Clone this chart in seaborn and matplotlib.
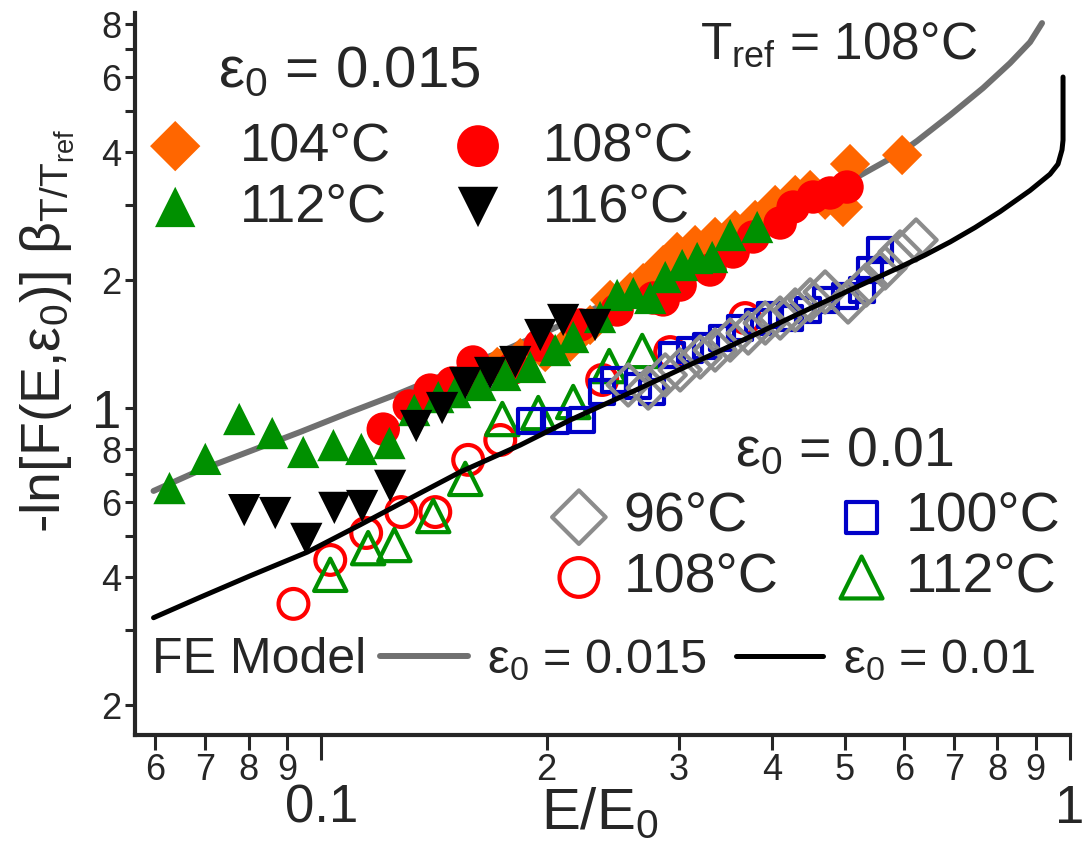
import matplotlib
matplotlib.use("Agg")
import matplotlib.pyplot as plt
import seaborn as sns

# ---------------- data ----------------
# eps0 = 0.015 (filled markers)
e015_104_x = [0.1442, 0.1581, 0.1718, 0.1844, 0.1991, 0.2150, 0.2286, 0.2431, 0.2586, 0.2691, 0.2862,
              0.2987, 0.3157, 0.3357, 0.3571, 0.3797, 0.4038, 0.4295, 0.4497, 0.4709, 0.4975, 0.5084, 0.5967]
e015_104_y = [1.073, 1.164, 1.249, 1.311, 1.354, 1.430, 1.568, 1.796, 1.875, 1.968, 2.170,
              2.329, 2.418, 2.526, 2.623, 2.770, 3.004, 3.171, 3.258, 3.090, 2.971, 3.751, 3.938]

e015_108_x = [0.1210, 0.1311, 0.1398, 0.1496, 0.1595, 0.1805, 0.1961, 0.2217, 0.2484, 0.2776,
              0.2862, 0.3015, 0.3306, 0.3549, 0.3775, 0.4101, 0.4268, 0.4539, 0.4782, 0.5037]
e015_108_y = [0.892, 1.011, 1.102, 1.145, 1.283, 1.242, 1.406, 1.568, 1.701, 1.815,
              1.796, 1.947, 2.112, 2.329, 2.526, 2.725, 2.971, 3.137, 3.206, 3.311]

e015_112_x = [0.0627, 0.0700, 0.0777, 0.0860, 0.0946, 0.1038, 0.1131, 0.1233, 0.1331, 0.1433, 0.1510,
              0.1631, 0.1761, 0.1901, 0.2053, 0.2170, 0.2357, 0.2484, 0.2610, 0.2750, 0.2880,
              0.3034, 0.3177, 0.3327, 0.3516, 0.3821]
e015_112_y = [0.648, 0.759, 0.942, 0.873, 0.788, 0.818, 0.801, 0.827, 0.989, 1.061, 1.090,
              1.133, 1.196, 1.249, 1.369, 1.469, 1.637, 1.845, 1.865, 1.815, 2.033,
              2.170, 2.254, 2.266, 2.553, 2.666]

e015_116_x = [0.0789, 0.0868, 0.0955, 0.1041, 0.1134, 0.1236, 0.1339, 0.1450, 0.1557, 0.1681,
              0.1816, 0.1961, 0.2104, 0.2321]
e015_116_y = [0.575, 0.566, 0.492, 0.582, 0.588, 0.656, 0.907, 1.000, 1.145, 1.209,
              1.283, 1.485, 1.611, 1.568]

# eps0 = 0.01 (open markers)
e010_96_x = [0.2570, 0.2733, 0.2880, 0.3015, 0.3206, 0.3357, 0.3516, 0.3717, 0.3917, 0.4101, 0.4295,
             0.4497, 0.4709, 0.5053, 0.5341, 0.5662, 0.5930, 0.6229]
e010_96_y = [1.133, 1.114, 1.196, 1.229, 1.318, 1.369, 1.445, 1.501, 1.585, 1.628, 1.701,
             1.796, 1.875, 1.776, 1.947, 2.136, 2.329, 2.485]

e010_100_x = [0.1901, 0.2060, 0.2231, 0.2372, 0.2461, 0.2650, 0.2767, 0.2942, 0.3109, 0.3266, 0.3430,
              0.3627, 0.3833, 0.3978, 0.4229, 0.4470, 0.4723, 0.5006, 0.5277, 0.5408, 0.5578]
e010_100_y = [0.932, 0.932, 0.937, 1.090, 1.164, 1.126, 1.090, 1.332, 1.369, 1.399, 1.461,
              1.543, 1.594, 1.655, 1.628, 1.701, 1.796, 1.834, 1.895, 2.112, 2.354]

e010_108_x = [0.0918, 0.1028, 0.1148, 0.1279, 0.1420, 0.1571, 0.1734, 0.2372, 0.2924, 0.3683]
e010_108_y = [0.346, 0.439, 0.508, 0.569, 0.569, 0.755, 0.841, 1.164, 1.354, 1.628]

e010_112_x = [0.1028, 0.1155, 0.1252, 0.1411, 0.1557, 0.1745, 0.1949, 0.2170, 0.2424, 0.2683]
e010_112_y = [0.405, 0.468, 0.476, 0.557, 0.681, 0.942, 0.973, 1.033, 1.255, 1.362]

# FE model curves
fe015_x = [0.0597, 0.0690, 0.0804, 0.0937, 0.1093, 0.1275, 0.1533, 0.1734, 0.2022, 0.2357, 0.2750,
           0.3206, 0.3740, 0.4362, 0.5084, 0.5930, 0.6248, 0.6917, 0.7652, 0.8316, 0.8844, 0.9176]
fe015_y = [0.638, 0.715, 0.792, 0.878, 0.978, 1.085, 1.242, 1.354, 1.526, 1.738, 1.958,
           2.229, 2.567, 2.955, 3.420, 3.980, 4.250, 4.890, 5.660, 6.480, 7.260, 8.050]

fe010_x = [0.0597, 0.0690, 0.0804, 0.0958, 0.1127, 0.1356, 0.1533, 0.1844, 0.2150, 0.2667, 0.3206,
           0.3857, 0.4362, 0.5084, 0.5930, 0.6405, 0.6917, 0.7468, 0.8065, 0.8844, 0.9404,
           0.9638, 0.9757, 0.9788, 0.9788]
fe010_y = [0.321, 0.359, 0.403, 0.458, 0.531, 0.631, 0.707, 0.818, 0.937, 1.114, 1.297,
           1.509, 1.673, 1.895, 2.146, 2.291, 2.459, 2.659, 2.898, 3.250, 3.550,
           3.750, 4.050, 4.270, 6.010]

xminor = [0.06, 0.07, 0.08, 0.09, 0.2, 0.3, 0.4, 0.5, 0.6, 0.7, 0.8, 0.9]
xminor_lab = ["6", "7", "8", "9", "2", "3", "4", "5", "6", "7", "8", "9"]
yminor = [0.2, 0.3, 0.4, 0.5, 0.6, 0.7, 0.8, 2, 3, 4, 5, 6, 7, 8]
yminor_lab = ["2", "", "4", "", "6", "", "8", "2", "", "4", "", "6", "", "8"]

# ---------------- style ----------------
sns.set_style("ticks")
plt.rcParams["font.family"] = ["Liberation Sans", "DejaVu Sans"]
plt.rcParams["mathtext.fontset"] = "custom"
plt.rcParams["mathtext.rm"] = "Liberation Sans"
plt.rcParams["mathtext.it"] = "Liberation Sans"
plt.rcParams["mathtext.default"] = "regular"

ORANGE = "#ff6600"
RED = "#ff0000"
GREEN = "#009000"
BLUE = "#0000c8"
GRAY_PT = "#8c8c8c"
GRAY_LN = "#707070"

fig = plt.figure(figsize=(10.83, 8.41), dpi=100)
ax = fig.add_axes([0.1247, 0.1260, 0.8633, 0.8585])
ax.set_xscale("log")
ax.set_yscale("log")


def pts(x, y, marker, color, size, filled=True, z=3):
    if filled:
        sns.scatterplot(x=x, y=y, marker=marker, color=color, s=size, edgecolor="none",
                        linewidth=0, ax=ax, zorder=z, legend=False)
    else:
        sns.scatterplot(x=x, y=y, marker=marker, s=size, facecolor="none", edgecolor=color,
                        linewidth=3, ax=ax, zorder=z, legend=False)
    return ax.collections[-1]


# model lines
sns.lineplot(x=fe015_x, y=fe015_y, color=GRAY_LN, lw=4.3, sort=False, estimator=None, ax=ax, zorder=2)
l015 = ax.lines[-1]

# eps0 = 0.01 series
h108o = pts(e010_108_x, e010_108_y, "o", RED, 460, filled=False, z=3)
h112o = pts(e010_112_x, e010_112_y, "^", GREEN, 540, filled=False, z=4)
h100 = pts(e010_100_x, e010_100_y, "s", BLUE, 300, filled=False, z=5)
h96 = pts(e010_96_x, e010_96_y, "D", GRAY_PT, 440, filled=False, z=6)

sns.lineplot(x=fe010_x, y=fe010_y, color="black", lw=3.6, sort=False, estimator=None, ax=ax, zorder=7)
l010 = ax.lines[-1]

# eps0 = 0.015 series
h104 = pts(e015_104_x, e015_104_y, "D", ORANGE, 420, z=8)
h108 = pts(e015_108_x, e015_108_y, "o", RED, 580, z=9)
h112 = pts(e015_112_x, e015_112_y, "^", GREEN, 540, z=10)
h116 = pts(e015_116_x, e015_116_y, "v", "black", 540, z=11)

# ---------------- axes ----------------
ax.set_xlim(0.0564, 1.0)
ax.set_ylim(0.170, 8.5)
ax.set_xticks([0.1, 1], labels=["0.1", "1"])
ax.set_xticks(xminor, labels=xminor_lab, minor=True)
ax.set_yticks([1], labels=["1"])
ax.set_yticks(yminor, labels=yminor_lab, minor=True)

ax.tick_params(axis="x", which="minor", length=11, width=2.2, labelsize=26, pad=2)
ax.tick_params(axis="x", which="major", length=18, width=2.2, labelsize=38, pad=17)
ax.tick_params(axis="y", which="minor", length=7, width=2.2, labelsize=26, pad=3)
ax.tick_params(axis="y", which="major", length=7, width=2.2, labelsize=38, pad=3)

sns.despine(ax=ax)
for side in ["left", "bottom"]:
    ax.spines[side].set_linewidth(3)

ax.set_xlabel("E/$E_0$", fontsize=42)
ax.xaxis.set_label_coords(0.497, -0.072)
ax.set_ylabel("-ln[F(E,$ε_0$)] $β_{T/T_{ref}}$", fontsize=40)
ax.yaxis.set_label_coords(-0.062, 0.56)

# ---------------- legends / annotations ----------------
ax.text(0.089, 0.918, "$ε_0$ = 0.015", transform=ax.transAxes, fontsize=42, va="center")
leg1 = ax.legend(handles=[h104, h112, h108, h116], labels=["104°C", "112°C", "108°C", "116°C"],
                 ncol=2, loc="upper left", bbox_to_anchor=(0.014, 0.85), frameon=False,
                 fontsize=39, markerscale=1.25, scatterpoints=1, handlelength=1.0,
                 handletextpad=0.7, columnspacing=1.1, labelspacing=0.2,
                 borderpad=0, borderaxespad=0)
ax.add_artist(leg1)

ax.text(0.604, 0.956, "$T_{ref}$ = 108°C", transform=ax.transAxes, fontsize=37, va="center")

ax.text(0.642, 0.392, "$ε_0$ = 0.01", transform=ax.transAxes, fontsize=40, va="center")
leg2 = ax.legend(handles=[h96, h108o, h100, h112o], labels=["96°C", "108°C", "100°C", "112°C"],
                 ncol=2, loc="upper left", bbox_to_anchor=(0.445, 0.337), frameon=False,
                 fontsize=40, markerscale=1.3, scatterpoints=1, handlelength=1.0,
                 handletextpad=0.3, columnspacing=1.0, labelspacing=0.15,
                 borderpad=0, borderaxespad=0)
ax.add_artist(leg2)

ax.text(0.018, 0.104, "FE Model", transform=ax.transAxes, fontsize=36, va="center")
ax.legend(handles=[l015, l010], labels=["$ε_0$ = 0.015", "$ε_0$ = 0.01"], ncol=2,
          loc="center left", bbox_to_anchor=(0.262, 0.104), frameon=False, fontsize=35,
          handlelength=1.8, handletextpad=0.4, columnspacing=0.6, borderpad=0, borderaxespad=0)

fig.savefig("out.png", dpi=100)
